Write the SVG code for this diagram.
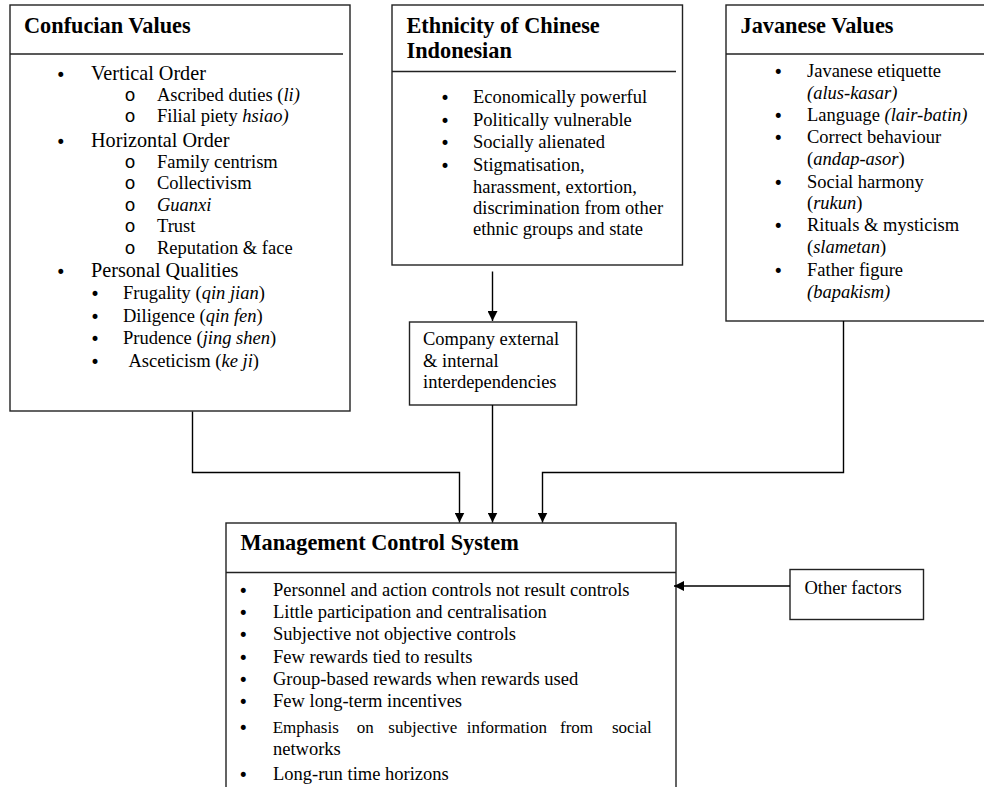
<svg xmlns="http://www.w3.org/2000/svg" width="984" height="787" viewBox="0 0 984 787">
<defs>
<marker id="ah" markerWidth="10" markerHeight="10" refX="10" refY="5" orient="auto" markerUnits="userSpaceOnUse">
<path d="M0,0 L10,5 L0,10 Z" fill="#000"/>
</marker>
<style>
.box{fill:#fff;stroke:#222;stroke-width:1.4}
.div{stroke:#222;stroke-width:1.4;fill:none}
.t{font-family:"Liberation Serif","Times New Roman",serif;font-size:18.5px;fill:#000}
.L{font-size:20.2px}
.s{font-size:17px}
.b{font-family:"DejaVu Sans",sans-serif;font-size:17px;fill:#000}
.o{font-family:"Liberation Mono","Courier New",monospace;font-size:18.5px;fill:#000}
.h{font-family:"Liberation Serif","Times New Roman",serif;font-size:22.3px;font-weight:bold;fill:#000}
.i{font-style:italic}
.c{stroke:#000;stroke-width:1.4;fill:none}
</style>
</defs>
<rect width="984" height="787" fill="#fff"/>

<g id="confucian">
<rect class="box" x="10" y="5" width="340" height="406"/>
<line class="div" x1="10" y1="54" x2="343" y2="54"/>
<text class="h" x="24" y="33">Confucian Values</text>
<text class="b" x="55.7" y="81">•</text><text class="t L" x="91" y="80">Vertical Order</text>
<text class="o" x="124.5" y="101">o</text><text class="t" x="157" y="101">Ascribed duties (<tspan class="i">li)</tspan></text>
<text class="o" x="124.5" y="122">o</text><text class="t" x="157" y="122">Filial piety <tspan class="i">hsiao)</tspan></text>
<text class="b" x="55.7" y="148">•</text><text class="t L" x="91" y="147">Horizontal Order</text>
<text class="o" x="124.5" y="168">o</text><text class="t" x="157" y="168">Family centrism</text>
<text class="o" x="124.5" y="189">o</text><text class="t" x="157" y="189">Collectivism</text>
<text class="o" x="124.5" y="211">o</text><text class="t i" x="157" y="211">Guanxi</text>
<text class="o" x="124.5" y="232">o</text><text class="t" x="157" y="232">Trust</text>
<text class="o" x="124.5" y="254">o</text><text class="t" x="157" y="254">Reputation &amp; face</text>
<text class="b" x="55.7" y="278">•</text><text class="t L" x="91" y="277">Personal Qualities</text>
<text class="b" x="90" y="300">•</text><text class="t" x="123" y="299">Frugality (<tspan class="i">qin jian</tspan>)</text>
<text class="b" x="90" y="323">•</text><text class="t" x="123" y="322">Diligence (<tspan class="i">qin fen</tspan>)</text>
<text class="b" x="90" y="345">•</text><text class="t" x="123" y="344">Prudence (<tspan class="i">jing shen</tspan>)</text>
<text class="b" x="90" y="368">•</text><text class="t" x="128.5" y="367">Asceticism (<tspan class="i">ke ji</tspan>)</text>
</g>

<g id="ethnicity">
<rect class="box" x="392" y="5" width="290.5" height="260"/>
<line class="div" x1="392" y1="71.5" x2="676" y2="71.5"/>
<text class="h" x="406.5" y="33">Ethnicity of Chinese</text>
<text class="h" x="406.5" y="58">Indonesian</text>
<text class="b" x="440" y="104">•</text><text class="t" x="473" y="103">Economically powerful</text>
<text class="b" x="440" y="126.5">•</text><text class="t" x="473" y="125.5">Politically vulnerable</text>
<text class="b" x="440" y="149">•</text><text class="t" x="473" y="148">Socially alienated</text>
<text class="b" x="440" y="172">•</text><text class="t" x="473" y="171">Stigmatisation,</text>
<text class="t" x="473" y="192.5">harassment, extortion,</text>
<text class="t" x="473" y="213.5">discrimination from other</text>
<text class="t" x="473" y="234.5">ethnic groups and state</text>
</g>

<g id="javanese">
<rect class="box" x="726" y="5" width="270" height="316"/>
<line class="div" x1="726" y1="54" x2="984" y2="54"/>
<text class="h" x="740.5" y="33">Javanese Values</text>
<text class="b" x="773.3" y="78">•</text><text class="t" x="807" y="77">Javanese etiquette</text>
<text class="t i" x="807" y="99">(alus-kasar)</text>
<text class="b" x="773.3" y="121.5">•</text><text class="t" x="807" y="120.5">Language <tspan class="i">(lair-batin)</tspan></text>
<text class="b" x="773.3" y="143.5">•</text><text class="t" x="807" y="142.5">Correct behaviour</text>
<text class="t" x="807" y="165">(<tspan class="i">andap-asor</tspan>)</text>
<text class="b" x="773.3" y="188.5">•</text><text class="t" x="807" y="187.5">Social harmony</text>
<text class="t" x="807" y="209">(<tspan class="i">rukun</tspan>)</text>
<text class="b" x="773.3" y="232">•</text><text class="t" x="807" y="231">Rituals &amp; mysticism</text>
<text class="t" x="807" y="253">(<tspan class="i">slametan</tspan>)</text>
<text class="b" x="773.3" y="277">•</text><text class="t" x="807" y="276">Father figure</text>
<text class="t i" x="807" y="297.5">(bapakism)</text>
</g>

<g id="company">
<rect class="box" x="409.5" y="322" width="167" height="83"/>
<text class="t" x="423" y="345">Company external</text>
<text class="t" x="423" y="366.5">&amp; internal</text>
<text class="t" x="423" y="387.5">interdependencies</text>
</g>

<g id="mcs">
<rect class="box" x="226" y="523" width="450" height="280"/>
<line class="div" x1="226" y1="572.5" x2="676" y2="572.5"/>
<text class="h" x="240.5" y="550">Management Control System</text>
<text class="b" x="238.3" y="597">•</text><text class="t" x="273" y="596">Personnel and action controls not result controls</text>
<text class="b" x="238.3" y="619">•</text><text class="t" x="273" y="618">Little participation and centralisation</text>
<text class="b" x="238.3" y="641">•</text><text class="t" x="273" y="640">Subjective not objective controls</text>
<text class="b" x="238.3" y="663.5">•</text><text class="t" x="273" y="662.5">Few rewards tied to results</text>
<text class="b" x="238.3" y="686">•</text><text class="t" x="273" y="685">Group-based rewards when rewards used</text>
<text class="b" x="238.3" y="707.5">•</text><text class="t" x="273" y="706.5">Few long-term incentives</text>
<text class="b" x="238.3" y="734">•</text><text class="t s" y="733"><tspan x="272.7">Emphasis</tspan> <tspan x="356.7">on</tspan> <tspan x="388.3">subjective</tspan> <tspan x="466.7">information</tspan> <tspan x="560">from</tspan> <tspan x="612">social</tspan></text>
<text class="t" x="273" y="755">networks</text>
<text class="b" x="238.3" y="781">•</text><text class="t" x="273" y="780">Long-run time horizons</text>
</g>

<g id="other">
<rect class="box" x="790" y="569.5" width="133.5" height="50"/>
<text class="t" x="804.5" y="594">Other factors</text>
</g>

<g id="connectors">
<line class="c" x1="492.5" y1="271.5" x2="492.5" y2="321" marker-end="url(#ah)"/>
<line class="c" x1="492.5" y1="405" x2="492.5" y2="522.5" marker-end="url(#ah)"/>
<polyline class="c" points="192.5,411.5 192.5,472.5 459.5,472.5 459.5,522.5" marker-end="url(#ah)"/>
<polyline class="c" points="843.5,321 843.5,472.5 542.5,472.5 542.5,522.5" marker-end="url(#ah)"/>
<line class="c" x1="790" y1="586" x2="674" y2="586" marker-end="url(#ah)"/>
</g>
</svg>
